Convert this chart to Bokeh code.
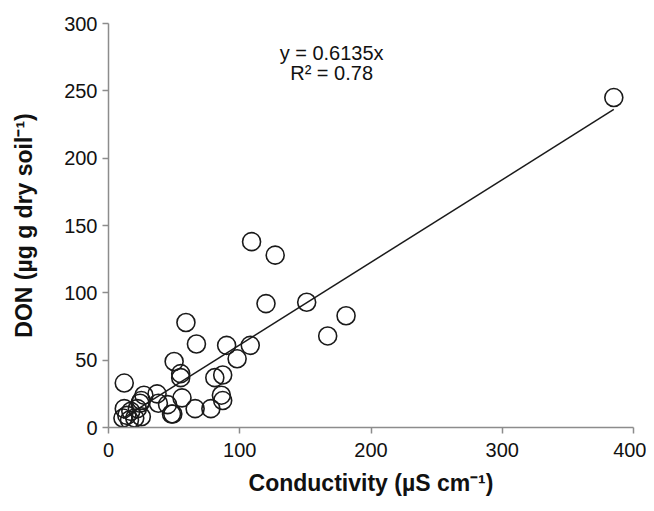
from bokeh.plotting import figure
from bokeh.models import Range1d, Label, FixedTicker
from bokeh.embed import file_html
from bokeh.resources import INLINE

# Data
conductivity = [385, 181, 167, 151, 120, 109, 127, 108, 98, 90, 59, 67, 50, 55, 55,
                12, 81, 87, 86, 87, 56, 66, 78, 37, 38, 45, 48, 49, 27, 25, 24, 22,
                17, 12, 11, 16, 20, 25, 14]
don = [245, 83, 68, 93, 92, 138, 128, 61, 51, 61, 78, 62, 49, 40, 37,
       33, 37, 39, 24, 20, 22, 14, 14, 25, 18, 17, 10, 10, 24, 20, 18, 14,
       12, 14, 7, 5.5, 7, 8, 9]
slope = 0.6135
x_ticks = [0, 100, 200, 300, 400]
y_ticks = [0, 50, 100, 150, 200, 250, 300]
x_title = "Conductivity (µS cm⁻¹)"
y_title = "DON (µg g dry soil⁻¹)"

FONT = "Liberation Sans"

p = figure(width=646, height=503, output_backend="svg", toolbar_location=None,
           x_range=Range1d(0, 400), y_range=Range1d(0, 300),
           min_border_left=108, min_border_right=13, min_border_top=23,
           min_border_bottom=76)
p.outline_line_color = None
p.xgrid.grid_line_color = None
p.ygrid.grid_line_color = None
p.background_fill_color = "white"
p.border_fill_color = "white"

# trendline
xs = [min(conductivity), max(conductivity)]
p.line(xs, [slope * v for v in xs], line_color="#1a1a1a", line_width=1.5)

# points
p.scatter(conductivity, don, marker="circle", size=18, fill_color=None,
          line_color="#1a1a1a", line_width=1.6)

for ax in (p.xaxis[0], p.yaxis[0]):
    ax.axis_line_color = "#8c8c8c"
    ax.axis_line_width = 1.5
    ax.major_tick_line_color = "#8c8c8c"
    ax.major_tick_line_width = 1.5
    ax.minor_tick_line_color = None
    ax.major_tick_in = 0
    ax.major_tick_out = 6
    ax.major_label_text_font = FONT
    ax.major_label_text_font_size = "20px"
    ax.major_label_text_color = "#111111"
    ax.axis_label_text_font = FONT
    ax.axis_label_text_font_size = "23px"
    ax.axis_label_text_font_style = "bold"
    ax.axis_label_text_color = "#111111"

p.xaxis.ticker = FixedTicker(ticks=x_ticks)
p.yaxis.ticker = FixedTicker(ticks=y_ticks)
p.xaxis.major_label_standoff = 9
p.yaxis.major_label_standoff = 5
p.xaxis.axis_label = x_title
p.yaxis.axis_label = y_title
p.xaxis.axis_label_standoff = 10
p.yaxis.axis_label_standoff = 24

p.add_layout(Label(x=170, y=278, text="y = 0.6135x", text_font=FONT,
                   text_font_size="20px", text_align="center",
                   text_baseline="middle", text_color="#111111"))
p.add_layout(Label(x=170, y=263, text="R² = 0.78", text_font=FONT,
                   text_font_size="20px", text_align="center",
                   text_baseline="middle", text_color="#111111"))

open("out.html", "w").write(file_html(p, INLINE))
